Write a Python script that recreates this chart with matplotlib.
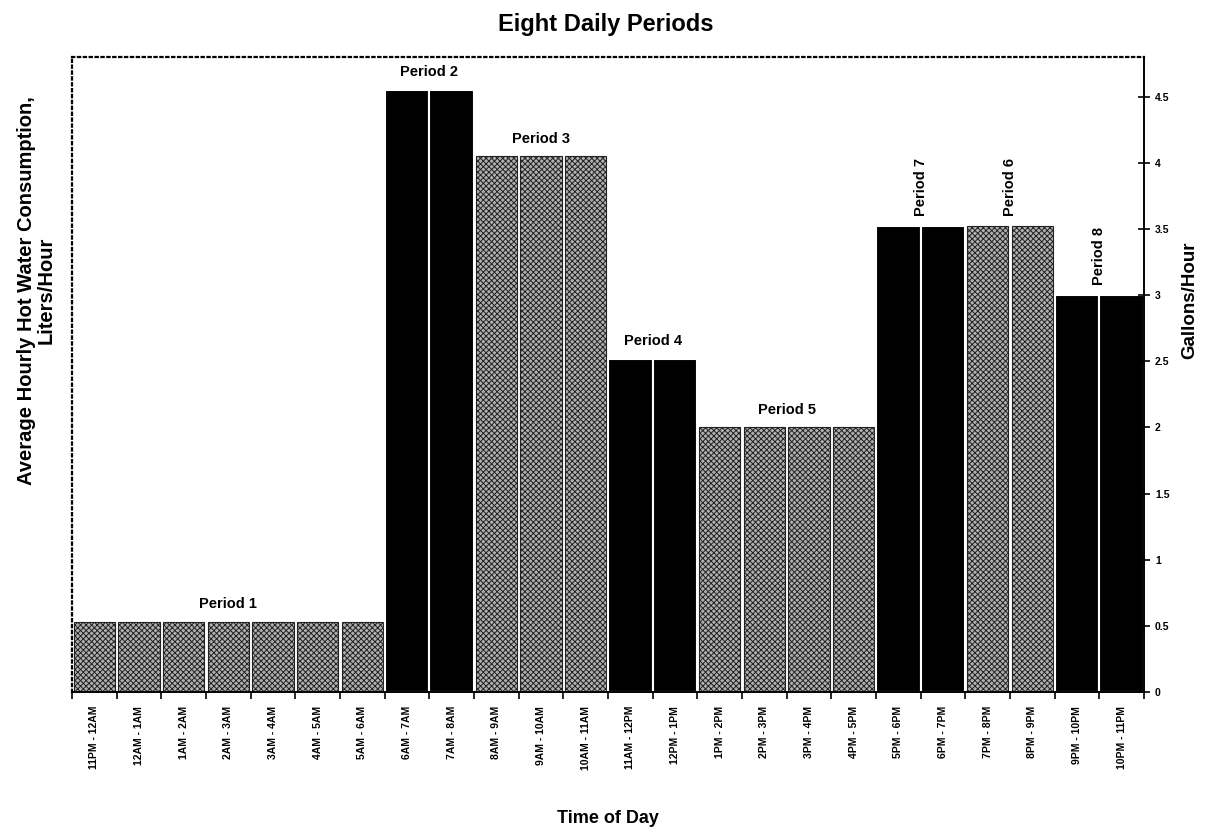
import numpy as np
import matplotlib.pyplot as plt
import matplotlib as mpl

mpl.rcParams['font.family'] = ['Liberation Sans', 'DejaVu Sans']
mpl.rcParams['font.weight'] = 'bold'
mpl.rcParams['hatch.linewidth'] = 0.7
mpl.rcParams['hatch.color'] = '#333333'

# data
hours = ['11PM - 12AM', '12AM - 1AM', '1AM - 2AM', '2AM - 3AM', '3AM - 4AM',
         '4AM - 5AM', '5AM - 6AM', '6AM - 7AM', '7AM - 8AM', '8AM - 9AM',
         '9AM - 10AM', '10AM - 11AM', '11AM - 12PM', '12PM - 1PM', '1PM - 2PM',
         '2PM - 3PM', '3PM - 4PM', '4PM - 5PM', '5PM - 6PM', '6PM - 7PM',
         '7PM - 8PM', '8PM - 9PM', '9PM - 10PM', '10PM - 11PM']
gallons = [0.53, 0.53, 0.53, 0.53, 0.53, 0.53, 0.53,
           4.55, 4.55,
           4.05, 4.05, 4.05,
           2.52, 2.52,
           2.0, 2.0, 2.0, 2.0,
           3.52, 3.52,
           3.52, 3.52,
           3.0, 3.0]
dark = [0, 0, 0, 0, 0, 0, 0, 1, 1, 0, 0, 0, 1, 1, 0, 0, 0, 0, 1, 1, 0, 0, 1, 1]

period_names = ['Period 1', 'Period 2', 'Period 3', 'Period 4', 'Period 5',
                'Period 7', 'Period 6', 'Period 8']
period_first = [0, 7, 9, 12, 14, 18, 20, 22]
period_last = [6, 8, 11, 13, 17, 19, 21, 23]
period_vertical = [0, 0, 0, 0, 0, 1, 1, 1]

fig = plt.figure(figsize=(12.12, 8.34), dpi=100)
ax = fig.add_axes([0.0594, 0.1703, 0.8845, 0.7614])

x = np.arange(len(hours))
for i in x:
    if dark[i]:
        ax.bar(i, gallons[i], width=1.0, color='black', edgecolor='white', linewidth=1.5)
    else:
        ax.bar(i, gallons[i], width=0.93, facecolor='#b0b0b0', edgecolor='#222222',
               hatch='xxxxxx', linewidth=0.8)

for name, a, b, v in zip(period_names, period_first, period_last, period_vertical):
    cx = (a + b) / 2
    top = gallons[a]
    if v:
        ax.text(cx, top + 0.08, name, rotation=90, ha='center', va='bottom', fontsize=10.5)
    else:
        ax.text(cx, top + 0.08, name, ha='center', va='bottom', fontsize=10.5)

ax.set_xlim(-0.5, len(hours) - 0.5)
ax.set_ylim(0, 4.8)

ax.set_xticks(x)
ax.set_xticklabels(hours, rotation=90, fontsize=7.5)
ax.set_xticks(np.arange(-0.5, len(hours), 1), minor=True)
ax.tick_params(axis='x', which='major', length=0, pad=10)
ax.tick_params(axis='x', which='minor', length=5, width=1.2, direction='out')

ax.yaxis.tick_right()
ax.set_yticks(np.arange(0, 4.6, 0.5))
ax.set_yticklabels(['0', '0.5', '1', '1.5', '2', '2.5', '3', '3.5', '4', '4.5'], fontsize=7.5)
ax.tick_params(axis='y', direction='inout', length=8, width=1.2, pad=4)

ax.spines['left'].set_linestyle(':')
ax.spines['top'].set_linestyle(':')
ax.spines['left'].set_linewidth(1.6)
ax.spines['top'].set_linewidth(1.6)
ax.spines['right'].set_linewidth(1.4)
ax.spines['bottom'].set_linewidth(1.4)

fig.suptitle('Eight Daily Periods', fontsize=17, fontweight='bold', y=0.985)
fig.text(0.030, 0.652, 'Average Hourly Hot Water Consumption,\nLiters/Hour', rotation=90,
         ha='center', va='center', multialignment='center', fontsize=14.5,
         fontweight='bold', linespacing=1.05)
fig.text(0.982, 0.640, 'Gallons/Hour', rotation=90, ha='center', va='center',
         fontsize=13.5, fontweight='bold')
fig.text(0.502, 0.018, 'Time of Day', ha='center', va='center', fontsize=13, fontweight='bold')

fig.savefig('out.png', dpi=100)
